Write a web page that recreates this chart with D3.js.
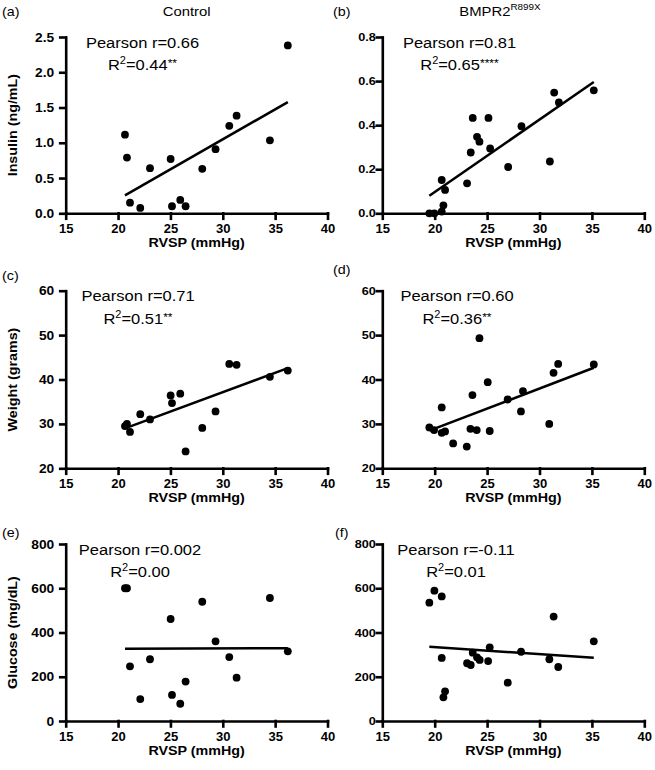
<!DOCTYPE html>
<html>
<head>
<meta charset="utf-8">
<script src="https://cdn.jsdelivr.net/npm/d3@7"></script>
<style>
  body { margin: 0; background: #fff; }
  svg { display: block; }
  text { font-family: "Liberation Sans", Arial, Helvetica, sans-serif; fill: #000; }
</style>
</head>
<body>
<svg id="fig" width="655" height="770"></svg>
<script>
// --- Data ---
const rvspControl    = [20.66, 20.85, 21.14, 22.12, 23.05, 25.02, 25.15, 25.94, 26.45, 28.04, 29.31, 30.62, 31.32, 34.50, 36.21];
const insulinControl = [1.115, 0.79, 0.15, 0.076, 0.64, 0.77, 0.10, 0.19, 0.10, 0.63, 0.91, 1.24, 1.385, 1.035, 2.38];
const weightControl  = [29.5, 30.0, 28.2, 32.2, 31.0, 36.4, 34.7, 36.8, 23.8, 29.1, 32.8, 43.5, 43.3, 40.6, 42.0];
const glucoseControl = [600, 600, 247, 99, 279, 461, 118, 78, 178, 539, 360, 289, 196, 556, 315];

const rvspBmprInsulin = [19.49, 19.97, 20.67, 20.83, 20.67, 20.99, 23.09, 23.44, 23.63, 24.04, 24.27, 25.13, 25.29, 27.01, 28.28, 30.99, 31.40, 31.85, 35.18];
const insulinBmpr     = [0, 0, 0.008, 0.036, 0.151, 0.106, 0.136, 0.276, 0.433, 0.347, 0.325, 0.433, 0.294, 0.210, 0.395, 0.235, 0.548, 0.503, 0.558];
const rvspBmprWeight  = [19.49, 19.94, 20.67, 20.67, 20.99, 21.76, 23.06, 23.41, 23.60, 24.01, 24.27, 25.06, 25.25, 26.96, 28.23, 28.42, 30.93, 31.34, 31.78, 35.18];
const weightBmpr      = [29.2, 28.6, 33.7, 28.0, 28.3, 25.6, 24.9, 28.9, 36.5, 28.6, 49.3, 39.4, 28.4, 35.5, 32.8, 37.4, 30.0, 41.5, 43.5, 43.4];
const rvspBmprGlucose = [19.49, 19.97, 20.67, 20.67, 20.83, 20.99, 23.09, 23.44, 23.63, 24.04, 24.29, 25.10, 25.25, 26.97, 28.24, 30.94, 31.35, 31.79, 35.18];
const glucoseBmpr     = [535, 589, 563, 285, 107, 134, 261, 253, 309, 288, 276, 271, 333, 173, 313, 279, 472, 244, 360];

const rvspTicks    = [15, 20, 25, 30, 35, 40];
const insulinTicksCtrl = [0, 0.5, 1.0, 1.5, 2.0, 2.5];
const insulinTicksBmpr = [0, 0.2, 0.4, 0.6, 0.8];
const weightTicks  = [20, 30, 40, 50, 60];
const glucoseTicks = [0, 200, 400, 600, 800];

const panelLetters = ['(a)', '(b)', '(c)', '(d)', '(e)', '(f)'];
const pearsonR     = ['0.66', '0.81', '0.71', '0.60', '0.002', '-0.11'];
const rSquared     = ['0.44', '0.65', '0.51', '0.36', '0.00', '0.01'];
const stars        = ['**', '****', '**', '**', '', ''];
const yLabels      = ['Insulin (ng/mL)', 'Weight (grams)', 'Glucose (mg/dL)'];

// --- Layout ---
const cols = [{ x0: 65.7, x1: 327.5, tickFont: 12.5, pad: 6 }, { x0: 382.3, x1: 644.3, tickFont: 11.5, pad: 1 }];
const rows = [{ top: 37, bottom: 213.3 }, { top: 290.7, bottom: 468.3 }, { top: 544, bottom: 721 }];
const noteX = [142.5, 459.5, 138, 457, 140, 456];
const letterPos = [[2, 16], [333, 16], [2, 280], [333, 274], [2, 537], [335, 537]];
const SX = 1.1; // source lettering is slightly wide
const FONT = '"Liberation Sans", Arial, Helvetica, sans-serif';

const panels = [
  { col: 0, row: 0, x: rvspControl,     y: insulinControl, ticks: insulinTicksCtrl, fmt: '.1f' },
  { col: 1, row: 0, x: rvspBmprInsulin, y: insulinBmpr,    ticks: insulinTicksBmpr, fmt: '.1f' },
  { col: 0, row: 1, x: rvspControl,     y: weightControl,  ticks: weightTicks,      fmt: 'd' },
  { col: 1, row: 1, x: rvspBmprWeight,  y: weightBmpr,     ticks: weightTicks,      fmt: 'd' },
  { col: 0, row: 2, x: rvspControl,     y: glucoseControl, ticks: glucoseTicks,     fmt: 'd' },
  { col: 1, row: 2, x: rvspBmprGlucose, y: glucoseBmpr,    ticks: glucoseTicks,     fmt: 'd' },
];

const svg = d3.select('#fig');

function label(x, y, size, opts = {}) {
  const g = svg.append('g')
    .attr('transform', `translate(${x},${y})${opts.rotate ? ' rotate(-90)' : ''} scale(${SX},1)`);
  return g.append('text')
    .attr('text-anchor', opts.anchor || 'start')
    .style('font-size', size + 'px')
    .style('font-weight', opts.bold ? 'bold' : 'normal');
}

function linFit(xs, ys) {
  const mx = d3.mean(xs), my = d3.mean(ys);
  let sxy = 0, sxx = 0;
  xs.forEach((v, i) => { sxy += (v - mx) * (ys[i] - my); sxx += (v - mx) ** 2; });
  const b = sxy / sxx;
  return { a: my - b * mx, b };
}

// Column titles
label(186.7, 16, 13.5, { anchor: 'middle' }).text('Control');
const t2 = label(500, 16, 13.5, { anchor: 'middle' });
t2.append('tspan').text('BMPR2');
t2.append('tspan').style('font-size', '9px').attr('dy', -6).text('R899X');

panels.forEach((p, i) => {
  const c = cols[p.col], r = rows[p.row];
  const x = d3.scaleLinear().domain([15, 40]).range([c.x0, c.x1]);
  const y = d3.scaleLinear().domain(d3.extent(p.ticks)).range([r.bottom, r.top]);
  const g = svg.append('g');

  // axes
  const xa = g.append('g').attr('transform', `translate(0,${r.bottom})`)
    .call(d3.axisBottom(x).tickValues(rvspTicks).tickSize(5.5).tickSizeOuter(0));
  xa.selectAll('text').attr('y', 20).attr('dy', 0)
    .style('font-size', '13px').style('font-weight', 'bold');

  const ya = g.append('g').attr('transform', `translate(${c.x0},0)`)
    .call(d3.axisLeft(y).tickValues(p.ticks).tickFormat(d3.format(p.fmt)).tickSize(5.5).tickSizeOuter(0));
  ya.selectAll('text').attr('x', -(5.5 + c.pad) / SX).attr('transform', `scale(${SX},1)`)
    .style('font-size', c.tickFont + 'px').style('font-weight', 'bold');

  g.selectAll('.domain, .tick line').attr('stroke', '#000').attr('stroke-width', 2.6)
    .attr('stroke-linecap', 'square');
  g.selectAll('.tick text').attr('fill', '#000').style('font-family', FONT);

  // regression line
  const fit = linFit(p.x, p.y);
  const ext = d3.extent(p.x);
  g.append('path')
    .attr('d', d3.line()(ext.map(v => [x(v), y(fit.a + fit.b * v)])))
    .attr('stroke', '#000').attr('stroke-width', 2.5).attr('fill', 'none');

  // points
  g.append('g').selectAll('circle').data(p.x.map((v, k) => [v, p.y[k]])).join('circle')
    .attr('cx', d => x(d[0])).attr('cy', d => y(d[1])).attr('r', 3.9).attr('fill', '#000');

  // annotations
  label(noteX[i], r.top + 10.5, 15, { anchor: 'middle' }).text('Pearson r=' + pearsonR[i]);
  const rt = label(noteX[i], r.top + 33, 15, { anchor: 'middle' });
  rt.append('tspan').text('R');
  rt.append('tspan').style('font-size', '10px').attr('dy', -6).text('2');
  rt.append('tspan').attr('dy', 6).text('=' + rSquared[i]);
  if (stars[i]) rt.append('tspan').style('font-size', '11px').attr('dy', -3).text(stars[i]);

  // x label
  label((c.x0 + c.x1) / 2, r.bottom + 34, 13, { anchor: 'middle', bold: true }).text('RVSP (mmHg)');

  // y label (left column only)
  if (p.col === 0) {
    label(17, (r.top + r.bottom) / 2, 13, { anchor: 'middle', bold: true, rotate: true }).text(yLabels[p.row]);
  }

  label(letterPos[i][0], letterPos[i][1], 13).text(panelLetters[i]);
});
</script>
</body>
</html>
